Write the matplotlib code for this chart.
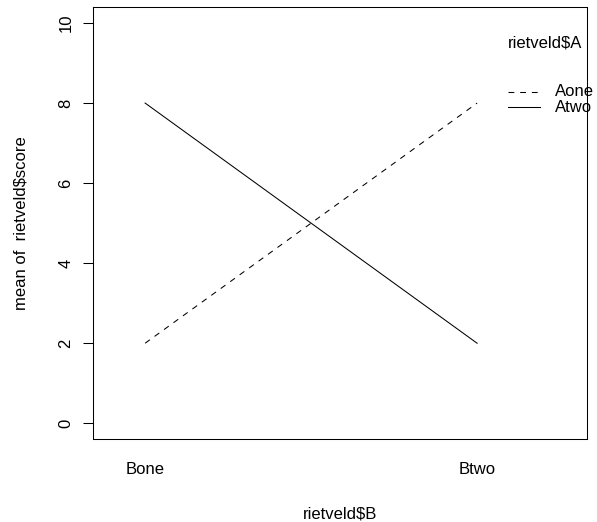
import matplotlib
matplotlib.use('Agg')
import matplotlib.pyplot as plt
from matplotlib.lines import Line2D

# cell means of rietveld$score by factors A and B
b_levels = ['Bone', 'Btwo']
a_levels = ['Aone', 'Atwo']
mean_aone = [2, 8]
mean_atwo = [8, 2]

plt.rcParams['font.family'] = ['Liberation Sans', 'DejaVu Sans']
fs = 12

W, H = 597, 522
fig = plt.figure(figsize=(W / 100, H / 100), dpi=100)
ax = fig.add_axes([93 / W, (H - 439.3) / H, 494 / W, (439.3 - 7) / H])

x = [1, 2]
dash = (0, (5.6, 5.6))
ax.plot(x, mean_aone, color='black', lw=0.75, linestyle=dash)
ax.plot(x, mean_atwo, color='black', lw=0.75)

ax.set_xlim(0.843, 2.331)
ax.set_ylim(-0.4, 10.4)

ax.set_yticks([0, 2, 4, 6, 8, 10])
ax.set_yticklabels(['0', '2', '4', '6', '8', '10'], rotation=90, va='center', fontsize=fs)
ax.tick_params(axis='y', length=7.2, width=0.75, pad=7)
ax.set_xticks(x)
ax.set_xticklabels(b_levels, fontsize=fs)
ax.tick_params(axis='x', length=0, pad=16)

for s in ax.spines.values():
    s.set_linewidth(0.75)

fig.text((93 + 587) / 2 / W, 1 - 514 / H, 'rietveld$B', ha='center', va='center', fontsize=fs)
fig.text(21.5 / W, 1 - 223 / H, 'mean of  rietveld$score', rotation=90,
         ha='center', va='center', fontsize=fs)

# legend (R interaction.plot style, no box)
fig.text(508 / W, 1 - 43 / H, 'rietveld$A', ha='left', va='center', fontsize=fs)
styles = [dash, '-']
ys = [92, 107]
for lab, ls, yy in zip(a_levels, styles, ys):
    fig.add_artist(Line2D([508 / W, 540 / W], [1 - yy / H, 1 - yy / H],
                          transform=fig.transFigure, color='black', lw=0.75, linestyle=ls))
    fig.text(555 / W, 1 - yy / H, lab, ha='left', va='center', fontsize=fs)

fig.savefig('out.png', dpi=100)
